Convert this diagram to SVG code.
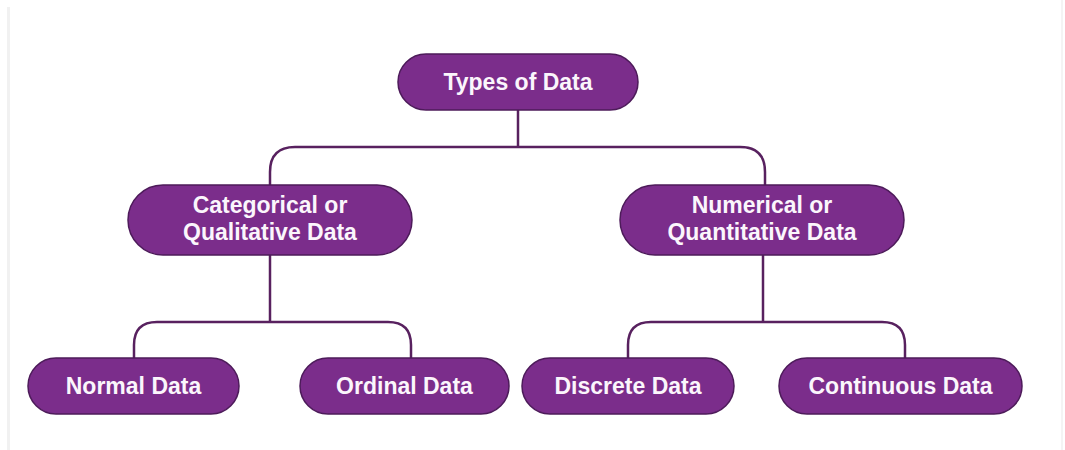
<svg xmlns="http://www.w3.org/2000/svg" width="1065" height="450" viewBox="0 0 1065 450">
<style>
.node rect{fill:#7b2d8b;stroke:#4d1b5a;stroke-width:1.5}
.node text{fill:#fbf6fc;font-family:"Liberation Sans",Arial,sans-serif;font-weight:bold;font-size:23px;text-anchor:middle}
.conn path{fill:none;stroke:#58215f;stroke-width:2.5}
</style>
<rect x="0" y="0" width="1065" height="450" fill="#ffffff"/>
<rect x="7" y="7" width="3" height="443" fill="#f1f1f1"/>
<rect x="1061" y="0" width="2" height="450" fill="#f4f4f4"/>
<g id="connectors" class="conn">
<path d="M518 110 V147"/>
<path d="M270 185 V172 Q270 147 295 147 H740 Q765 147 765 172 V185"/>
<path d="M270 255 V322"/>
<path d="M134 358 V345 Q134 322 157 322 H388 Q411 322 411 345 V358"/>
<path d="M763 255 V322"/>
<path d="M628 358 V345 Q628 322 651 322 H882 Q905 322 905 345 V358"/>
</g>
<g id="types" class="node">
<rect x="398" y="54" width="240" height="56" rx="28"/>
<text x="518" y="90">Types of Data</text>
</g>
<g id="categorical" class="node">
<rect x="128" y="185" width="284" height="70" rx="35"/>
<text x="270" y="213">Categorical or</text>
<text x="270" y="240">Qualitative Data</text>
</g>
<g id="numerical" class="node">
<rect x="620" y="185" width="284" height="70" rx="35"/>
<text x="762" y="213">Numerical or</text>
<text x="762" y="240">Quantitative Data</text>
</g>
<g id="normal" class="node">
<rect x="28" y="358" width="211" height="56" rx="28"/>
<text x="133.5" y="394">Normal Data</text>
</g>
<g id="ordinal" class="node">
<rect x="300" y="358" width="209" height="56" rx="28"/>
<text x="404.5" y="394">Ordinal Data</text>
</g>
<g id="discrete" class="node">
<rect x="522" y="358" width="212" height="56" rx="28"/>
<text x="628" y="394">Discrete Data</text>
</g>
<g id="continuous" class="node">
<rect x="779" y="358" width="243" height="56" rx="28"/>
<text x="900.5" y="394">Continuous Data</text>
</g>
</svg>
